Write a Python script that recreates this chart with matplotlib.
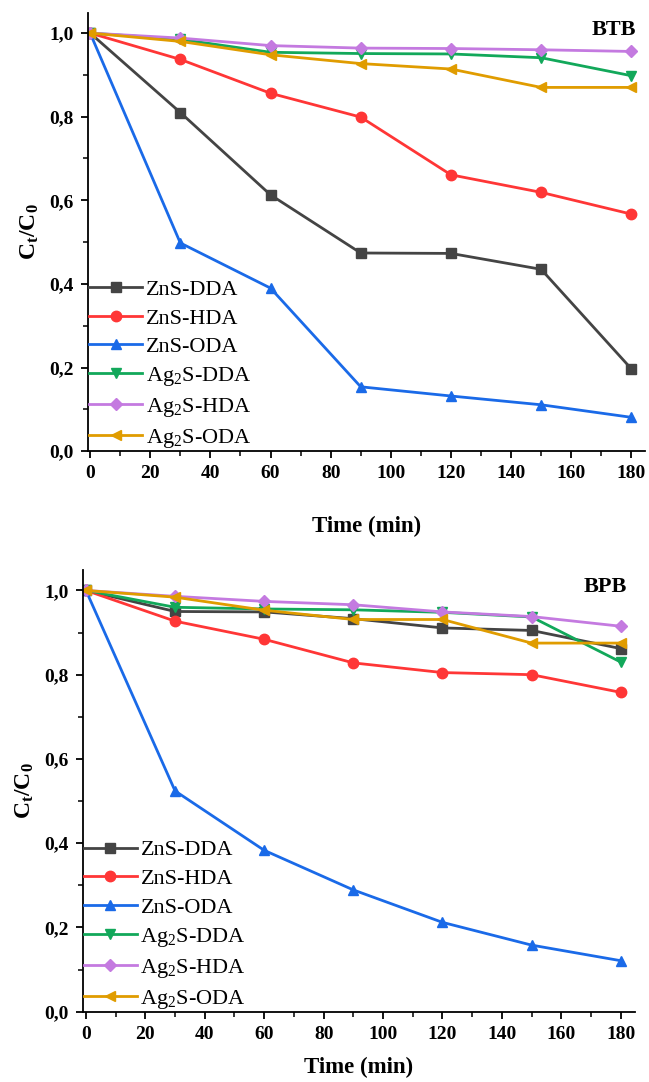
import numpy as np
import matplotlib
matplotlib.use("Agg")
import matplotlib.pyplot as plt
from matplotlib.ticker import MultipleLocator, FuncFormatter

plt.rcParams['font.family'] = ['Liberation Serif', 'DejaVu Serif']
plt.rcParams['mathtext.fontset'] = 'custom'
plt.rcParams['mathtext.rm'] = 'Liberation Serif'
plt.rcParams['mathtext.it'] = 'Liberation Serif:italic'
plt.rcParams['mathtext.bf'] = 'Liberation Serif:bold'

# time points (min)
time = [0, 30, 60, 90, 120, 150, 180]

labels = ['ZnS-DDA', 'ZnS-HDA', 'ZnS-ODA',
          'Ag$_2$S-DDA', 'Ag$_2$S-HDA', 'Ag$_2$S-ODA']

# BTB dye, C_t/C_0
btb_zns_dda = [1.0, 0.810, 0.613, 0.474, 0.473, 0.435, 0.197]
btb_zns_hda = [1.0, 0.937, 0.856, 0.799, 0.661, 0.619, 0.567]
btb_zns_oda = [1.0, 0.498, 0.390, 0.154, 0.132, 0.111, 0.081]
btb_ag_dda = [1.0, 0.985, 0.954, 0.951, 0.950, 0.941, 0.898]
btb_ag_hda = [1.0, 0.988, 0.970, 0.964, 0.963, 0.960, 0.956]
btb_ag_oda = [1.0, 0.980, 0.948, 0.927, 0.914, 0.870, 0.870]

# BPB dye, C_t/C_0
bpb_zns_dda = [1.0, 0.950, 0.949, 0.933, 0.911, 0.905, 0.862]
bpb_zns_hda = [1.0, 0.927, 0.884, 0.828, 0.805, 0.800, 0.758]
bpb_zns_oda = [1.0, 0.524, 0.383, 0.289, 0.212, 0.158, 0.121]
bpb_ag_dda = [1.0, 0.960, 0.956, 0.954, 0.948, 0.937, 0.830]
bpb_ag_hda = [1.0, 0.986, 0.974, 0.966, 0.949, 0.938, 0.915]
bpb_ag_oda = [1.0, 0.984, 0.953, 0.931, 0.931, 0.875, 0.875]

colors = ['#444444', '#ff3636', '#1a6ae8', '#12a85a', '#c47ae0', '#e09c00']
markers = ['s', 'o', '^', 'v', 'D', '<']
msizes = [6.5, 7.5, 7.5, 7.5, 6.5, 7.5]

def comma(v, pos):
    return ('%.1f' % v).replace('.', ',')

fig = plt.figure(figsize=(6.49, 10.82), dpi=100)
ax1 = fig.add_axes([0.1356, 0.583, 0.858, 0.405])
ax2 = fig.add_axes([0.1274, 0.065, 0.851, 0.408])

panels = [(ax1, [btb_zns_dda, btb_zns_hda, btb_zns_oda, btb_ag_dda, btb_ag_hda, btb_ag_oda], 'BTB', (-0.7, 184.5), 24),
          (ax2, [bpb_zns_dda, bpb_zns_hda, bpb_zns_oda, bpb_ag_dda, bpb_ag_hda, bpb_ag_oda], 'BPB', (-1.1, 184.8), 10)]

for ax, series, name, xl, lpad in panels:
    for y, c, m, ms, lab in zip(series, colors, markers, msizes, labels):
        ax.plot(time, y, color=c, marker=m, markersize=ms, linewidth=2.0, label=lab)
    ax.set_xlim(*xl)
    ax.set_ylim(0, 1.048)
    ax.spines['top'].set_visible(False)
    ax.spines['right'].set_visible(False)
    ax.spines['left'].set_linewidth(1.3)
    ax.spines['bottom'].set_linewidth(1.3)
    ax.xaxis.set_major_locator(MultipleLocator(20))
    ax.xaxis.set_minor_locator(MultipleLocator(10))
    ax.yaxis.set_major_locator(MultipleLocator(0.2))
    ax.yaxis.set_minor_locator(MultipleLocator(0.1))
    ax.yaxis.set_major_formatter(FuncFormatter(comma))
    ax.tick_params(which='major', direction='out', length=5, width=1.3, labelsize=14, pad=5)
    ax.tick_params(which='minor', direction='out', length=3.5, width=1.1)
    for t in ax.get_xticklabels() + ax.get_yticklabels():
        t.set_fontweight('bold')
    ax.set_xlabel('Time (min)', fontsize=16.5, fontweight='bold', labelpad=lpad)
    ax.set_ylabel(r'$\mathbf{C_t/C_0}$', fontsize=17, labelpad=6)
    ax.text(0.985, 0.985, name, transform=ax.transAxes, ha='right', va='top',
            fontsize=16, fontweight='bold')
    ax.legend(loc='lower left', frameon=False, fontsize=16, handlelength=2.4,
              handletextpad=0.15, labelspacing=0.36, borderaxespad=0.0,
              borderpad=0.05)

fig.savefig('out.png', dpi=100)
